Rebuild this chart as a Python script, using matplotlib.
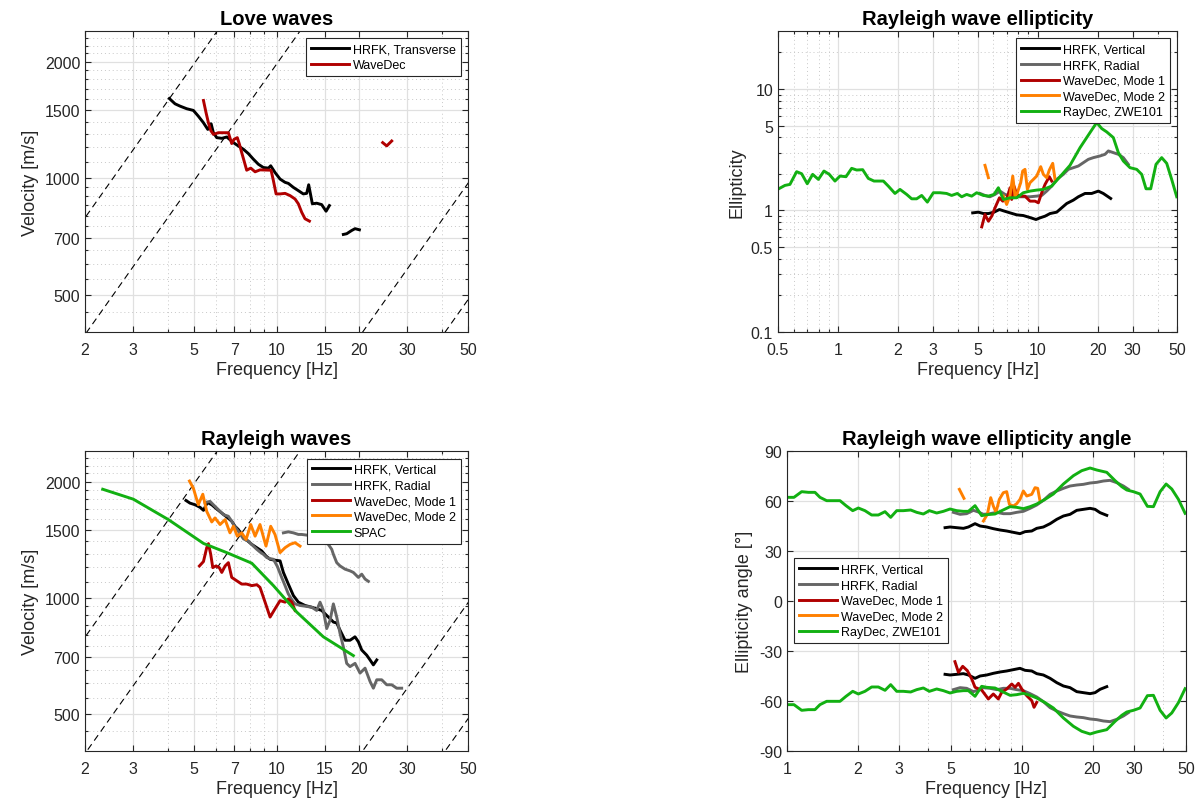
import numpy as np
import matplotlib
matplotlib.use("Agg")
import matplotlib.pyplot as plt
from matplotlib.ticker import FixedLocator, FixedFormatter, NullFormatter

plt.rcParams['font.family'] = ['Liberation Sans', 'DejaVu Sans']

# ---- Love waves (HRFK transverse has a gap, so two pieces) ----
love_hrfk_f = [4.06, 4.26, 4.44, 4.70, 4.97, 5.18, 5.41, 5.61, 5.77, 5.88, 6.05, 6.31, 6.58,
               6.96, 7.25, 7.57, 7.89, 8.23, 8.58, 8.95, 9.34, 9.52, 9.87, 10.30, 10.74, 11.04,
               11.52, 12.01, 12.52, 12.88, 13.10, 13.51, 14.01, 14.61, 15.16, 15.59]
love_hrfk_v = [1606, 1556, 1535, 1511, 1496, 1446, 1390, 1336, 1382, 1310, 1272, 1267, 1277,
               1235, 1211, 1187, 1157, 1119, 1086, 1065, 1061, 1076, 1034, 994, 975, 969,
               946, 928, 910, 913, 961, 858, 861, 854, 821, 849]
love_hrfk_f2 = [17.53, 18.03, 18.80, 19.34, 20.06]
love_hrfk_v2 = [715, 718, 732, 740, 735]
love_wd_f = [5.41, 5.53, 5.64, 5.75, 5.88, 6.13, 6.67, 6.86, 7.00, 7.19, 7.32, 7.46, 7.61, 7.78,
             8.05, 8.35, 8.70, 9.55, 9.74, 9.96, 10.30, 10.74, 11.2, 11.68, 12.01, 12.35, 12.70, 13.18]
love_wd_v = [1587, 1475, 1390, 1328, 1297, 1310, 1310, 1228, 1260, 1272, 1223, 1164, 1108, 1048,
             1061, 1038, 1050, 1048, 984, 910, 910, 913, 901, 883, 858, 816, 785, 774]
love_wd_f2 = [24.4, 25.24, 26.32]
love_wd_v2 = [1235, 1211, 1247]

# ---- Rayleigh waves ----
ray_vert_f = [4.67, 4.83, 5.04, 5.26, 5.41, 5.59, 5.80, 6.05, 6.31, 6.58, 6.86, 7.05, 7.25, 7.46,
              7.78, 8.12, 8.47, 8.83, 9.15, 9.47, 9.74, 10.30, 10.59, 11.04, 11.52, 12.01, 12.70,
              13.44, 14.01, 14.61, 15.24, 15.68, 16.12, 16.58, 17.05, 17.78, 18.54, 19.34, 19.89,
              20.46, 21.33, 21.94, 22.56, 23.21]
ray_vert_v = [1786, 1758, 1741, 1714, 1684, 1765, 1741, 1697, 1657, 1618, 1578, 1531, 1502, 1458,
              1410, 1374, 1347, 1321, 1282, 1257, 1252, 1245, 1162, 1084, 1012, 973, 954,
              944, 935, 926, 899, 882, 864, 859, 823, 775, 775, 791, 768,
              731, 709, 689, 669, 689]
ray_rad_f = [5.48, 5.72, 5.88, 6.22, 6.40, 6.67, 6.86, 7.00, 7.25, 7.57, 7.89, 8.23, 8.47, 8.70,
             8.95, 9.21, 9.47, 9.74, 10.07, 10.44, 10.74, 11.04, 11.36, 11.68, 12.18, 12.70, 13.44,
             14.01, 14.41, 14.82, 15.24, 15.68, 16.12, 16.58, 17.05, 17.53, 18.03, 18.54, 19.34,
             20.17, 21.04, 21.94, 22.56, 23.21, 24.20, 25.24, 26.32, 27.45, 28.62]
ray_rad_v = [1765, 1776, 1741, 1674, 1641, 1625, 1578, 1537, 1487, 1420, 1401, 1360, 1334, 1313,
             1295, 1270, 1262, 1257, 1204, 1128, 1074, 1022, 988, 963, 954, 950, 944,
             926, 973, 926, 831, 873, 963, 890, 807, 745, 675, 662, 675,
             637, 656, 606, 582, 612, 612, 594, 594, 582, 582]
ray_rad_f2 = [10.59, 11.04, 11.52, 12.01, 12.35, 13.62, 15.45, 15.90, 16.12, 16.58, 17.05, 17.78,
              18.54, 19.07, 19.89, 20.46, 21.04, 21.63]
ray_rad_v2 = [1472, 1481, 1472, 1458, 1458, 1445, 1374, 1334, 1295, 1232, 1208, 1185,
              1173, 1162, 1128, 1150, 1117, 1102]
ray_m1_f = [5.23, 5.41, 5.56, 5.64, 5.75, 5.85, 6.01, 6.18, 6.31, 6.49, 6.67, 6.86, 7.15, 7.46,
            7.78, 8.12, 8.47, 8.70, 9.08, 9.47, 9.87, 10.30, 10.74, 11.04, 11.36, 11.68]
ray_m1_v = [1208, 1240, 1347, 1380, 1295, 1196, 1208, 1196, 1162, 1208, 1232, 1128, 1106, 1084,
            1084, 1074, 1080, 1063, 973, 890, 935, 982, 973, 992, 973, 926]
ray_m2_f = [4.81, 4.97, 5.18, 5.38, 5.56, 5.80, 5.96, 6.22, 6.49, 6.76, 6.96, 7.19, 7.46, 7.74,
            8.05, 8.35, 8.70, 9.15, 9.52, 9.87, 10.30, 10.74, 11.2, 11.68, 12.18]
ray_m2_v = [2006, 1921, 1741, 1854, 1674, 1571, 1609, 1547, 1593, 1472, 1531, 1443, 1472, 1415,
            1547, 1443, 1547, 1360, 1531, 1458, 1308, 1347, 1374, 1388, 1360]
spac_f = [2.32, 3.00, 4.03, 5.41, 6.58, 8.12, 9.74, 11.85, 14.82, 19.07]
spac_v = [1910, 1800, 1593, 1382, 1308, 1228, 1074, 917, 791, 707]

# wavelength lines (m) drawn as v = lambda * f
wavelengths = [395, 197, 19.4, 9.7]

# ---- Rayleigh wave ellipticity ----
ell_vert_f = [4.73, 5.05, 5.35, 5.67, 6.05, 6.44, 6.74, 7.28, 7.86, 8.48, 9.16, 9.82, 10.29,
              10.90, 11.55, 12.47, 13.21, 14.00, 15.11, 16.01, 17.29, 18.67, 20.17, 21.35, 23.25]
ell_vert = [0.956, 0.969, 0.944, 0.944, 0.969, 1.019, 0.994, 0.956, 0.921, 0.909, 0.875, 0.843,
            0.870, 0.898, 0.944, 0.969, 1.052, 1.142, 1.217, 1.297, 1.381, 1.381, 1.444, 1.381, 1.256]
ell_rad_f = [5.15, 5.45, 5.77, 6.12, 6.48, 6.87, 7.28, 7.86, 8.48, 9.16, 9.90, 10.49, 11.11,
             11.77, 12.47, 13.46, 14.26, 15.11, 16.01, 16.96, 17.97, 19.04, 20.56, 21.78, 22.63,
             23.97, 25.40, 26.90, 28.5]
ell_rad = [1.381, 1.330, 1.297, 1.356, 1.444, 1.356, 1.313, 1.297, 1.297, 1.297, 1.313, 1.330,
           1.444, 1.588, 1.803, 1.983, 2.181, 2.250, 2.323, 2.475, 2.637, 2.723, 2.810, 2.900,
           3.090, 2.994, 2.900, 2.723, 2.398]
ell_m1_f = [5.25, 5.45, 5.67, 5.89, 6.12, 6.44, 6.69, 7.00, 7.28, 7.42, 7.62, 7.86, 8.23, 8.65,
            9.16, 9.71, 10.09, 10.49, 10.90, 11.45, 11.77]
ell_m1 = [0.733, 0.927, 0.816, 0.898, 1.052, 1.272, 1.194, 1.233, 1.539, 1.233, 1.588, 1.356,
          1.313, 1.313, 1.194, 1.194, 1.157, 1.400, 1.640, 1.897, 1.747]
ell_m2_fa = [5.45, 5.67]
ell_m2_a = [2.353, 1.862]
ell_m2_f = [6.74, 7.00, 7.28, 7.51, 7.71, 7.92, 8.23, 8.42, 8.65, 8.89, 9.16, 9.53, 9.90, 10.37,
            10.69, 11.11, 11.45, 11.91, 12.23]
ell_m2 = [1.313, 1.121, 1.330, 1.921, 1.313, 1.400, 1.692, 2.112, 2.181, 1.491, 1.692, 1.803,
          1.921, 2.294, 1.983, 1.862, 2.153, 2.444, 1.803]
raydec_f = [0.508, 0.542, 0.574, 0.620, 0.657, 0.701, 0.746, 0.797, 0.850, 0.904, 0.965, 1.023,
            1.096, 1.170, 1.240, 1.329, 1.418, 1.514, 1.687, 1.786, 1.929, 2.044, 2.208, 2.339,
            2.477, 2.625, 2.803, 3.003, 3.243, 3.501, 3.709, 3.962, 4.165, 4.413, 4.675, 4.952,
            5.35, 5.67, 6.05, 6.36, 6.74, 7.28, 7.86, 8.48, 9.16, 9.90, 10.69, 11.77, 12.96,
            14.54, 16.33, 18.32, 19.79, 20.96, 22.20, 23.97, 25.40, 26.90, 29.07, 31.39, 33.26,
            34.96, 36.90, 39.23, 41.88, 44.38, 47.0, 49.83]
raydec_ell = [1.519, 1.609, 1.640, 2.086, 2.008, 1.660, 1.983, 1.803, 2.112, 1.983, 1.747, 1.921,
              1.897, 2.223, 2.153, 2.167, 1.837, 1.747, 1.747, 1.588, 1.381, 1.491, 1.356, 1.248,
              1.248, 1.330, 1.172, 1.400, 1.400, 1.381, 1.330, 1.381, 1.297, 1.356, 1.313, 1.400,
              1.330, 1.313, 1.356, 1.539, 1.233, 1.272, 1.272, 1.400, 1.444, 1.472, 1.491, 1.588,
              1.897, 2.353, 3.291, 4.379, 5.297, 4.726, 4.435, 3.982, 2.994, 2.555, 2.250, 2.181,
              1.983, 1.509, 1.509, 2.398, 2.723, 2.444, 1.803, 1.297]

# ---- Rayleigh wave ellipticity angle (upper branch; lower branch is its mirror) ----
ang_vert_f = [4.71, 4.95, 5.28, 5.64, 5.92, 6.32, 6.64, 7.09, 7.56, 8.07, 8.62, 9.20, 9.82,
              10.32, 11.02, 11.57, 12.35, 13.19, 14.08, 15.03, 16.04, 17.13, 18.28, 19.52,
              20.50, 21.53, 22.99]
ang_vert = [44.0, 44.4, 44.0, 43.6, 44.4, 46.4, 45.0, 44.4, 43.4, 42.6, 42.0, 41.2, 40.4,
            41.6, 42.0, 43.6, 44.4, 46.4, 49.0, 51.0, 52.0, 54.4, 55.0, 55.6, 55.0, 53.0, 51.4]
ang_rad_f = [5.11, 5.46, 5.82, 6.22, 6.53, 6.86, 7.32, 7.82, 8.34, 8.91, 9.51, 10.15, 10.84,
             11.57, 12.35, 13.19, 14.08, 15.03, 16.04, 17.13, 18.28, 19.52, 20.84, 22.24,
             23.74, 25.36, 27.06, 28.42]
ang_rad = [53.2, 52.0, 52.4, 54.4, 53.4, 52.0, 52.4, 53.2, 52.4, 52.4, 53.2, 53.8, 55.6,
           57.6, 60.4, 64.0, 66.0, 67.6, 69.0, 69.6, 70.0, 70.8, 71.2, 72.0, 72.4, 71.0, 69.0, 67.0]
ang_m1_f = [5.19, 5.37, 5.60, 5.86, 6.12, 6.32, 6.75, 7.20, 7.56, 7.94, 8.21, 8.62, 9.06, 9.36,
            9.67, 9.99, 10.49, 11.02, 11.27, 11.57]
ang_m1 = [-36.4, -42.8, -39.2, -41.8, -46.8, -51.8, -53.5, -58.8, -55.8, -58.8, -54.8, -52.8,
          -49.8, -51.8, -49.4, -52.8, -56.8, -59.8, -63.8, -60.8]
ang_m2_fa = [5.42, 5.67]
ang_m2_a = [67.0, 61.6]
ang_m2_f = [6.86, 7.13, 7.37, 7.56, 7.76, 8.02, 8.34, 8.62, 8.85, 9.20, 9.51, 9.82, 10.15,
            10.49, 11.02, 11.38, 11.68, 11.95]
ang_m2 = [48.0, 52.0, 62.0, 57.0, 53.2, 61.0, 65.0, 65.6, 58.0, 57.0, 58.4, 61.0, 66.0,
          63.0, 64.0, 68.0, 67.6, 60.0]
ang_ray_f = [1.0, 1.071, 1.155, 1.233, 1.316, 1.382, 1.476, 1.575, 1.682, 1.784, 1.905, 2.013,
             2.148, 2.294, 2.449, 2.615, 2.764, 2.932, 3.130, 3.363, 3.567, 3.808, 4.039, 4.340,
             4.633, 4.946, 5.280, 5.636, 5.920, 6.320, 6.745, 7.085, 7.688, 8.209, 8.909, 9.511,
             10.15, 10.84, 11.57, 12.56, 13.62, 15.03, 16.58, 17.99, 19.52, 20.84, 22.99, 24.95,
             26.63, 27.97, 29.85, 31.87, 34.24, 36.33, 38.79, 41.13, 43.48, 46.41, 49.56]
ang_ray = [62.2, 62.2, 65.6, 65.2, 65.2, 62.2, 60.2, 60.2, 60.2, 57.2, 54.2, 55.8,
           54.2, 51.6, 51.6, 53.6, 50.2, 54.2, 54.2, 54.6, 53.2, 52.2, 54.2, 52.8,
           53.8, 55.2, 54.2, 53.8, 53.8, 57.2, 51.2, 51.8, 52.2, 54.2, 56.6, 56.2,
           55.4, 56.6, 58.2, 61.0, 64.2, 70.2, 75.2, 78.2, 79.8, 78.6, 77.2, 72.2,
           68.6, 66.6, 65.6, 64.2, 56.8, 56.6, 65.6, 70.2, 67.2, 61.0, 52.6]

C_BLACK = '#000000'
C_GRAY = '#666666'
C_RED = '#b00000'
C_ORANGE = '#ff8000'
C_GREEN = '#12b012'
LW = 2.1
EDGE = '#262626'


def style_axes(ax, xlim, xticks, xminor, ylim, yticks, yminor, ylog=True):
    ax.set_xscale('log')
    if ylog:
        ax.set_yscale('log')
    ax.set_xlim(xlim)
    ax.set_ylim(ylim)
    ax.xaxis.set_major_locator(FixedLocator(xticks))
    ax.xaxis.set_major_formatter(FixedFormatter([f"{t:g}" for t in xticks]))
    ax.xaxis.set_minor_locator(FixedLocator(xminor))
    ax.xaxis.set_minor_formatter(NullFormatter())
    ax.yaxis.set_major_locator(FixedLocator(yticks))
    ax.yaxis.set_major_formatter(FixedFormatter([f"{t:g}" for t in yticks]))
    ax.yaxis.set_minor_locator(FixedLocator(yminor))
    ax.yaxis.set_minor_formatter(NullFormatter())
    ax.grid(True, which='major', color='#e0e0e0', lw=0.9, ls='-')
    ax.grid(True, which='minor', color='#c8c8c8', lw=0.7, ls=(0, (1, 3)))
    ax.set_axisbelow(True)
    ax.tick_params(which='both', direction='in', top=True, right=True,
                   labelsize=11.5, colors=EDGE, width=0.8)
    ax.tick_params(which='major', length=4)
    ax.tick_params(which='minor', length=2)
    ax.tick_params(axis='x', which='major', pad=7)
    for s in ax.spines.values():
        s.set_color(EDGE)
        s.set_linewidth(0.8)
    ax.set_xlabel("Frequency [Hz]", fontsize=13, color=EDGE, labelpad=3)


def add_legend(ax, **kw):
    leg = ax.legend(fontsize=9, handlelength=3.0, handletextpad=0.3, labelspacing=0.3,
                    borderpad=0.4, fancybox=False, framealpha=1, edgecolor=EDGE, **kw)
    leg.get_frame().set_linewidth(0.8)
    return leg


def wavelength_lines(ax):
    f = np.array([1.0, 100.0])
    for lam in wavelengths:
        ax.plot(f, lam * f, color='k', lw=0.8, ls=(0, (6, 4)), zorder=1)


vel_minor = [450, 550, 600, 650, 750, 800, 850, 900, 950, 1100, 1200, 1300, 1400,
             1600, 1700, 1800, 1900, 2100, 2200, 2300]

fig = plt.figure(figsize=(11.98, 8.04), dpi=100)

# Love waves
ax1 = fig.add_axes([0.0710, 0.5858, 0.3197, 0.3744])
style_axes(ax1, (2, 50), [2, 3, 5, 7, 10, 15, 20, 30, 50], [4, 6, 8, 9, 40],
           (400, 2400), [500, 700, 1000, 1500, 2000], vel_minor)
wavelength_lines(ax1)
ax1.plot(love_hrfk_f, love_hrfk_v, color=C_BLACK, lw=LW, label="HRFK, Transverse")
ax1.plot(love_hrfk_f2, love_hrfk_v2, color=C_BLACK, lw=LW)
ax1.plot(love_wd_f, love_wd_v, color=C_RED, lw=LW, label="WaveDec")
ax1.plot(love_wd_f2, love_wd_v2, color=C_RED, lw=LW)
ax1.set_ylabel("Velocity [m/s]", fontsize=13, color=EDGE)
ax1.set_title("Love waves", fontsize=14.5, fontweight='bold', pad=5)
add_legend(ax1, loc='upper right', borderaxespad=0.6)

# Rayleigh waves
ax3 = fig.add_axes([0.0710, 0.0647, 0.3197, 0.3731])
style_axes(ax3, (2, 50), [2, 3, 5, 7, 10, 15, 20, 30, 50], [4, 6, 8, 9, 40],
           (400, 2400), [500, 700, 1000, 1500, 2000], vel_minor)
wavelength_lines(ax3)
ax3.plot(ray_vert_f, ray_vert_v, color=C_BLACK, lw=LW, label="HRFK, Vertical")
ax3.plot(ray_rad_f, ray_rad_v, color=C_GRAY, lw=LW, label="HRFK, Radial")
ax3.plot(ray_rad_f2, ray_rad_v2, color=C_GRAY, lw=LW)
ax3.plot(ray_m1_f, ray_m1_v, color=C_RED, lw=LW, label="WaveDec, Mode 1")
ax3.plot(ray_m2_f, ray_m2_v, color=C_ORANGE, lw=LW, label="WaveDec, Mode 2")
ax3.plot(spac_f, spac_v, color=C_GREEN, lw=LW, label="SPAC")
ax3.set_ylabel("Velocity [m/s]", fontsize=13, color=EDGE)
ax3.set_title("Rayleigh waves", fontsize=14.5, fontweight='bold', pad=5)
add_legend(ax3, loc='upper right', borderaxespad=0.6)

# Ellipticity
ax2 = fig.add_axes([0.6494, 0.5858, 0.3331, 0.3744])
style_axes(ax2, (0.5, 50), [0.5, 1, 2, 3, 5, 10, 20, 30, 50],
           [0.6, 0.7, 0.8, 0.9, 4, 6, 7, 8, 9, 40],
           (0.1, 30), [0.1, 0.5, 1, 5, 10],
           [0.2, 0.3, 0.4, 0.6, 0.7, 0.8, 0.9, 2, 3, 4, 6, 7, 8, 9, 20])
ax2.plot(ell_vert_f, ell_vert, color=C_BLACK, lw=LW, label="HRFK, Vertical")
ax2.plot(ell_rad_f, ell_rad, color=C_GRAY, lw=LW, label="HRFK, Radial")
ax2.plot(ell_m1_f, ell_m1, color=C_RED, lw=LW, label="WaveDec, Mode 1")
ax2.plot(ell_m2_f, ell_m2, color=C_ORANGE, lw=LW, label="WaveDec, Mode 2")
ax2.plot(ell_m2_fa, ell_m2_a, color=C_ORANGE, lw=LW)
ax2.plot(raydec_f, raydec_ell, color=C_GREEN, lw=LW, label="RayDec, ZWE101")
ax2.set_ylabel("Ellipticity", fontsize=13, color=EDGE)
ax2.set_title("Rayleigh wave ellipticity", fontsize=14.5, fontweight='bold', pad=5)
add_legend(ax2, loc='upper right', borderaxespad=0.6)

# Ellipticity angle
ax4 = fig.add_axes([0.6569, 0.0647, 0.3331, 0.3731])
style_axes(ax4, (1, 50), [1, 2, 3, 5, 10, 20, 30, 50], [4, 6, 7, 8, 9, 40],
           (-90, 90), [-90, -60, -30, 0, 30, 60, 90], [], ylog=False)
vert = np.array(ang_vert)
rad = np.array(ang_rad)
ray = np.array(ang_ray)
ax4.plot(ang_vert_f, vert, color=C_BLACK, lw=LW, label="HRFK, Vertical")
ax4.plot(ang_vert_f, -vert, color=C_BLACK, lw=LW)
ax4.plot(ang_rad_f, rad, color=C_GRAY, lw=LW, label="HRFK, Radial")
ax4.plot(ang_rad_f, -rad, color=C_GRAY, lw=LW)
ax4.plot(ang_m1_f, ang_m1, color=C_RED, lw=LW, label="WaveDec, Mode 1")
ax4.plot(ang_m2_f, ang_m2, color=C_ORANGE, lw=LW, label="WaveDec, Mode 2")
ax4.plot(ang_m2_fa, ang_m2_a, color=C_ORANGE, lw=LW)
ax4.plot(ang_ray_f, ray, color=C_GREEN, lw=LW, label="RayDec, ZWE101")
ax4.plot(ang_ray_f, -ray, color=C_GREEN, lw=LW)
ax4.set_ylabel("Ellipticity angle [°]", fontsize=13, color=EDGE)
ax4.set_title("Rayleigh wave ellipticity angle", fontsize=14.5, fontweight='bold', pad=5)
add_legend(ax4, loc='center left', borderaxespad=0.6)

fig.savefig("out.png", dpi=100)
